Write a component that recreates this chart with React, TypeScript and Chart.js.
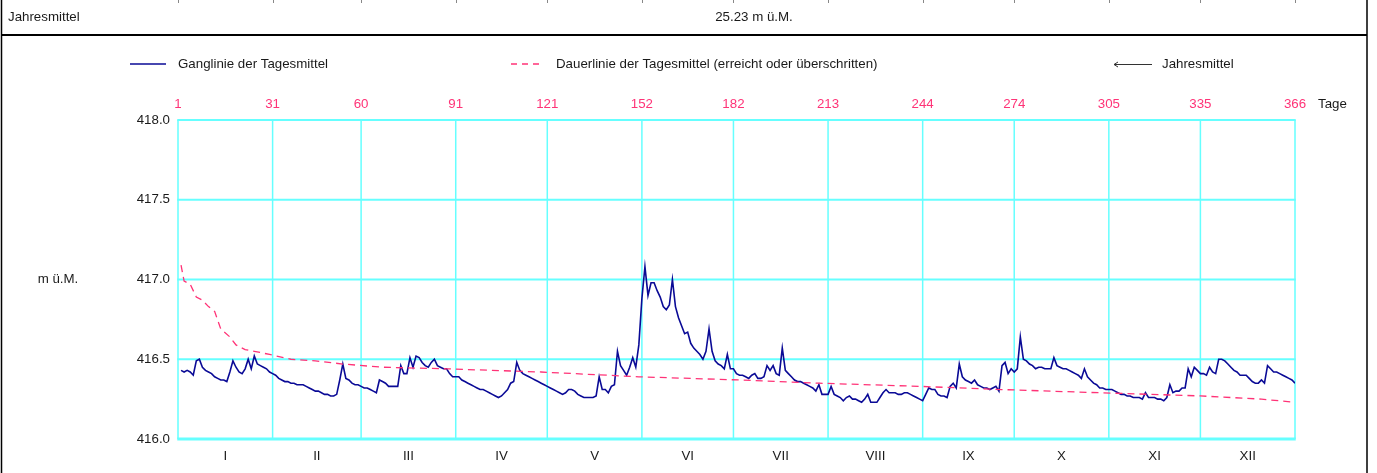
import React, { useEffect, useRef } from "react";
import { Chart, registerables } from "chart.js";

Chart.register(...registerables);

// ---------- data ----------
const MONTH_TICKS = [0, 31, 60, 91, 121, 152, 182, 213, 244, 274, 305, 335, 366];
const TOP_TICK_LABELS = ["1", "31", "60", "91", "121", "152", "182", "213", "244", "274", "305", "335", "366"];
const MONTH_LABELS = ["I", "II", "III", "IV", "V", "VI", "VII", "VIII", "IX", "X", "XI", "XII"];
const Y_TICKS = [416.0, 416.5, 417.0, 417.5, 418.0];

const JAN = [416.43, 416.42, 416.43, 416.42, 416.40, 416.49, 416.50, 416.45, 416.43, 416.42, 416.41, 416.39, 416.38, 416.37, 416.37, 416.36, 416.42, 416.49, 416.45, 416.42, 416.41, 416.44, 416.50, 416.44, 416.52, 416.47, 416.46, 416.45, 416.44, 416.42, 416.41];
const FEB = [416.40, 416.38, 416.37, 416.36, 416.36, 416.35, 416.35, 416.34, 416.34, 416.34, 416.33, 416.32, 416.31, 416.30, 416.30, 416.29, 416.28, 416.28, 416.27, 416.27, 416.28, 416.37, 416.47, 416.38, 416.37, 416.35, 416.34, 416.34, 416.33];
const MAR = [416.32, 416.32, 416.31, 416.30, 416.29, 416.37, 416.36, 416.35, 416.33, 416.33, 416.33, 416.33, 416.46, 416.41, 416.41, 416.51, 416.45, 416.52, 416.51, 416.48, 416.46, 416.45, 416.48, 416.50, 416.46, 416.45, 416.44, 416.44, 416.41, 416.39, 416.39];
const APR = [416.39, 416.37, 416.36, 416.35, 416.34, 416.33, 416.32, 416.31, 416.31, 416.30, 416.29, 416.28, 416.27, 416.26, 416.27, 416.29, 416.31, 416.35, 416.36, 416.48, 416.43, 416.41, 416.40, 416.39, 416.38, 416.37, 416.36, 416.35, 416.34, 416.33];
const MAY = [416.32, 416.31, 416.30, 416.29, 416.28, 416.29, 416.31, 416.31, 416.30, 416.28, 416.27, 416.26, 416.26, 416.26, 416.26, 416.27, 416.39, 416.31, 416.31, 416.29, 416.33, 416.34, 416.55, 416.46, 416.43, 416.40, 416.45, 416.51, 416.45, 416.59, 416.88];
const JUN = [417.08, 416.90, 416.98, 416.98, 416.93, 416.89, 416.83, 416.81, 416.84, 417.00, 416.83, 416.76, 416.71, 416.66, 416.67, 416.60, 416.57, 416.55, 416.53, 416.50, 416.55, 416.69, 416.55, 416.49, 416.47, 416.46, 416.44, 416.53, 416.44, 416.44];
const JUL = [416.41, 416.40, 416.40, 416.39, 416.38, 416.40, 416.41, 416.38, 416.38, 416.39, 416.46, 416.43, 416.46, 416.41, 416.40, 416.57, 416.43, 416.41, 416.39, 416.37, 416.36, 416.36, 416.35, 416.34, 416.33, 416.32, 416.30, 416.34, 416.28, 416.28, 416.28];
const AUG = [416.33, 416.28, 416.27, 416.26, 416.24, 416.26, 416.27, 416.25, 416.25, 416.24, 416.23, 416.25, 416.28, 416.23, 416.23, 416.23, 416.26, 416.29, 416.31, 416.29, 416.29, 416.29, 416.28, 416.28, 416.29, 416.29, 416.28, 416.27, 416.26, 416.25, 416.24];
const SEP = [416.28, 416.32, 416.31, 416.31, 416.28, 416.27, 416.27, 416.26, 416.33, 416.35, 416.32, 416.47, 416.39, 416.37, 416.36, 416.35, 416.37, 416.34, 416.33, 416.32, 416.32, 416.31, 416.32, 416.33, 416.30, 416.46, 416.48, 416.41, 416.44, 416.42];
const OCT = [416.44, 416.64, 416.50, 416.49, 416.47, 416.46, 416.44, 416.45, 416.45, 416.44, 416.44, 416.44, 416.51, 416.46, 416.45, 416.44, 416.44, 416.43, 416.42, 416.41, 416.40, 416.38, 416.44, 416.39, 416.37, 416.35, 416.34, 416.32, 416.32, 416.31, 416.31];
const NOV = [416.31, 416.30, 416.29, 416.28, 416.28, 416.27, 416.27, 416.26, 416.26, 416.26, 416.25, 416.29, 416.26, 416.26, 416.26, 416.25, 416.25, 416.24, 416.26, 416.34, 416.29, 416.30, 416.30, 416.32, 416.32, 416.44, 416.39, 416.45, 416.43, 416.41];
const DEC = [416.41, 416.40, 416.45, 416.42, 416.41, 416.50, 416.50, 416.49, 416.47, 416.45, 416.43, 416.42, 416.40, 416.40, 416.40, 416.38, 416.36, 416.35, 416.35, 416.37, 416.35, 416.46, 416.44, 416.42, 416.42, 416.41, 416.40, 416.39, 416.38, 416.37, 416.35];

const DAUER_DAYS = [1, 2, 4, 6, 8, 10, 12, 14, 17, 19, 22, 25, 30, 37, 45, 54, 67, 88, 119, 151, 184, 210, 243, 270, 302, 335, 355, 366];
const DAUER_VALUES = [417.09, 416.99, 416.97, 416.89, 416.87, 416.83, 416.80, 416.69, 416.64, 416.59, 416.56, 416.55, 416.53, 416.50, 416.49, 416.47, 416.45, 416.44, 416.42, 416.39, 416.37, 416.35, 416.33, 416.31, 416.29, 416.27, 416.25, 416.23];

const GANG_VALUES = [...JAN, ...FEB, ...MAR, ...APR, ...MAY, ...JUN, ...JUL, ...AUG, ...SEP, ...OCT, ...NOV, ...DEC];

const HEADER_LEFT = "Jahresmittel";
const HEADER_VALUE = "25.23 m ü.M.";
const LEGEND_GANG = "Ganglinie der Tagesmittel";
const LEGEND_DAUER = "Dauerlinie der Tagesmittel (erreicht oder überschritten)";
const LEGEND_MEAN = "Jahresmittel";
const Y_TITLE = "m ü.M.";
const X_TITLE = "Tage";

const W = 1377;
const H = 473;
const FONT = "13.3px 'Liberation Sans', Arial, sans-serif";
const TEXT = "#1a1a1a";
const PINK = "#ff3377";
const BLUE = "#0a0a96";
const CYAN = "#66ffff";

const decor = {
  id: "decor",
  beforeDraw(chart: any) {
    const ctx = chart.ctx;
    ctx.save();
    ctx.fillStyle = "#ffffff";
    ctx.fillRect(0, 0, W, H);
    // frame
    ctx.strokeStyle = "#000000";
    ctx.lineWidth = 1.5;
    ctx.beginPath();
    ctx.moveTo(1.5, 0);
    ctx.lineTo(1.5, H);
    ctx.moveTo(1367, 0);
    ctx.lineTo(1367, H);
    ctx.stroke();
    ctx.lineWidth = 2;
    ctx.beginPath();
    ctx.moveTo(1, 35);
    ctx.lineTo(1367, 35);
    ctx.stroke();
    // table remnants at top edge
    const x = chart.scales.x;
    ctx.strokeStyle = "#888888";
    ctx.lineWidth = 1;
    ctx.beginPath();
    MONTH_TICKS.forEach((t) => {
      const px = Math.round(x.getPixelForValue(t)) + 0.5;
      ctx.moveTo(px, 0);
      ctx.lineTo(px, 3);
    });
    ctx.stroke();
    // header texts
    ctx.font = FONT;
    ctx.fillStyle = TEXT;
    ctx.textBaseline = "middle";
    ctx.textAlign = "left";
    ctx.fillText(HEADER_LEFT, 8, 17);
    ctx.textAlign = "center";
    ctx.fillText(HEADER_VALUE, 754, 17);
    // legend
    ctx.textAlign = "left";
    ctx.strokeStyle = BLUE;
    ctx.lineWidth = 1.5;
    ctx.beginPath();
    ctx.moveTo(130, 64);
    ctx.lineTo(166, 64);
    ctx.stroke();
    ctx.fillText(LEGEND_GANG, 178, 64);
    ctx.strokeStyle = PINK;
    ctx.setLineDash([6, 5]);
    ctx.beginPath();
    ctx.moveTo(511, 64);
    ctx.lineTo(543, 64);
    ctx.stroke();
    ctx.setLineDash([]);
    ctx.fillText(LEGEND_DAUER, 556, 64);
    ctx.strokeStyle = "#333333";
    ctx.lineWidth = 1;
    ctx.beginPath();
    ctx.moveTo(1114, 64.5);
    ctx.lineTo(1152, 64.5);
    ctx.moveTo(1118, 62);
    ctx.lineTo(1114, 64.5);
    ctx.lineTo(1118, 67);
    ctx.stroke();
    ctx.fillText(LEGEND_MEAN, 1162, 64);
    ctx.restore();
  },
  beforeDatasetsDraw(chart: any) {
    const ctx = chart.ctx;
    const x = chart.scales.x;
    const y = chart.scales.y;
    const area = chart.chartArea;
    ctx.save();
    ctx.strokeStyle = CYAN;
    ctx.lineWidth = 1.5;
    ctx.beginPath();
    MONTH_TICKS.forEach((t) => {
      const px = x.getPixelForValue(t);
      ctx.moveTo(px, area.top);
      ctx.lineTo(px, area.bottom);
    });
    ctx.stroke();
    Y_TICKS.forEach((v) => {
      const py = y.getPixelForValue(v);
      ctx.lineWidth = v === Y_TICKS[0] ? 3 : 2;
      ctx.beginPath();
      ctx.moveTo(area.left - 0.75, py);
      ctx.lineTo(area.right + 0.75, py);
      ctx.stroke();
    });
    ctx.restore();
  },
  afterDraw(chart: any) {
    const ctx = chart.ctx;
    const x = chart.scales.x;
    const y = chart.scales.y;
    ctx.save();
    ctx.font = FONT;
    ctx.textBaseline = "middle";
    // top day labels
    ctx.fillStyle = PINK;
    ctx.textAlign = "center";
    MONTH_TICKS.forEach((t, i) => {
      ctx.fillText(TOP_TICK_LABELS[i], x.getPixelForValue(t), 104);
    });
    ctx.fillStyle = TEXT;
    ctx.textAlign = "left";
    ctx.fillText(X_TITLE, 1318, 104);
    // y tick labels
    ctx.textAlign = "right";
    Y_TICKS.forEach((v) => {
      ctx.fillText(v.toFixed(1), 170, y.getPixelForValue(v));
    });
    ctx.textAlign = "center";
    ctx.fillText(Y_TITLE, 58, y.getPixelForValue(417.0));
    // month numerals
    MONTH_LABELS.forEach((m, i) => {
      const cx = (x.getPixelForValue(MONTH_TICKS[i]) + x.getPixelForValue(MONTH_TICKS[i + 1])) / 2;
      ctx.fillText(m, cx, 456);
    });
    ctx.restore();
  },
};

export default function App() {
  const ref = useRef<HTMLCanvasElement | null>(null);
  useEffect(() => {
    if (!ref.current) return;
    const gang = GANG_VALUES.map((v, i) => ({ x: i + 1, y: v }));
    const dauer = DAUER_DAYS.map((d, i) => ({ x: d, y: DAUER_VALUES[i] }));
    const chart = new Chart(ref.current, {
      type: "line",
      data: {
        datasets: [
          {
            label: LEGEND_DAUER,
            data: dauer,
            borderColor: PINK,
            borderWidth: 1.3,
            borderDash: [7, 5],
            pointRadius: 0,
            tension: 0,
            fill: false,
          },
          {
            label: LEGEND_GANG,
            data: gang,
            borderColor: BLUE,
            borderWidth: 1.6,
            pointRadius: 0,
            tension: 0,
            fill: false,
          },
        ],
      },
      options: {
        animation: false,
        responsive: false,
        maintainAspectRatio: false,
        layout: { padding: { left: 178, right: 82, top: 120, bottom: 34 } },
        plugins: { legend: { display: false }, tooltip: { enabled: false }, title: { display: false } },
        scales: {
          x: { type: "linear", min: 0, max: 366, display: false },
          y: { type: "linear", min: 416, max: 418, display: false },
        },
      },
      plugins: [decor],
    });
    return () => chart.destroy();
  }, []);
  return (
    <div style={{ position: "fixed", left: 0, top: 0, width: W, height: H, background: "#fff" }}>
      <canvas ref={ref} width={W} height={H} style={{ display: "block", width: W, height: H }} />
    </div>
  );
}
